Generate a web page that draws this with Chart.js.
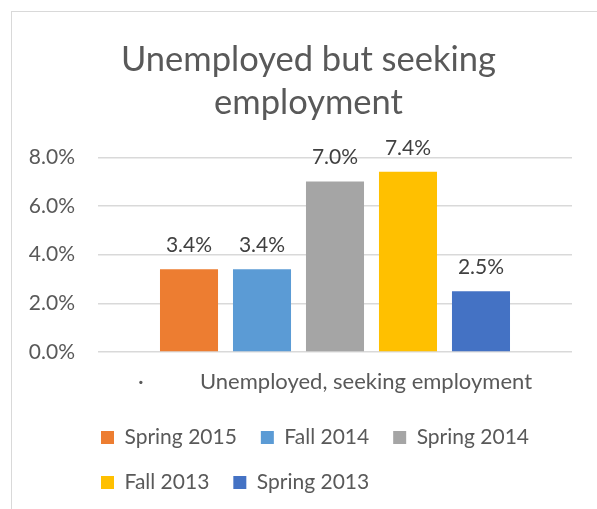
<!DOCTYPE html>
<html>
<head>
<meta charset="utf-8">
<script src="https://cdn.jsdelivr.net/npm/chart.js@4/dist/chart.umd.min.js"></script>
<style>
  html, body { margin: 0; padding: 0; background: #fff; }
  #wrap { position: relative; width: 597px; height: 509px; overflow: hidden; }
  #frame { position: absolute; left: 11px; top: 11px; width: 700px; height: 600px;
           border-left: 1px solid #d9d9d9; border-top: 1px solid #d9d9d9; }
  #chart { position: absolute; left: 0; top: 0; }
</style>
</head>
<body>
<div id="wrap">
  <div id="frame"></div>
  <canvas id="chart" width="597" height="509"></canvas>
</div>
<script>
// Veriler
const categories = ['·          Unemployed, seeking employment'];
const seriesNames = ['Spring 2015', 'Fall 2014', 'Spring 2014', 'Fall 2013', 'Spring 2013'];
const seriesValues = [[3.4], [3.4], [7.0], [7.4], [2.5]];
const seriesColors = ['#ed7d31', '#5b9bd5', '#a5a5a5', '#ffc000', '#4472c4'];
const yTicks = [0, 2, 4, 6, 8];

const FONT = 'Lato, "Open Sans", sans-serif';
const TEXT = '#595959';
const LEGEND_SHIFT = 48;
const TITLE_SHIFT = 16;

// Bar üstü değer etiketleri
const valueLabels = {
    id: 'valueLabels',
    afterDatasetsDraw(chart) {
        const ctx = chart.ctx;
        ctx.save();
        ctx.font = '21px ' + FONT;
        ctx.fillStyle = '#404040';
        ctx.textAlign = 'center';
        ctx.textBaseline = 'middle';
        chart.data.datasets.forEach((ds, i) => {
            chart.getDatasetMeta(i).data.forEach((bar, j) => {
                ctx.fillText(ds.data[j].toFixed(1) + '%', bar.x, bar.y - 24);
            });
        });
        ctx.restore();
    }
};

// Başlık ve lejantı Excel'deki gibi biraz sağa kaydır
const boxShift = {
    id: 'boxShift',
    afterLayout(chart) {
        if (chart.legend) chart.legend.left += LEGEND_SHIFT;
        if (chart.titleBlock) chart.titleBlock.left += TITLE_SHIFT;
    }
};

new Chart(document.getElementById('chart'), {
    type: 'bar',
    data: {
        labels: categories,
        datasets: seriesNames.map((name, i) => ({
            label: name,
            data: seriesValues[i],
            backgroundColor: seriesColors[i],
            categoryPercentage: 0.77,
            barPercentage: 0.795
        }))
    },
    options: {
        responsive: false,
        animation: false,
        layout: { padding: { left: 29, right: 25, top: 0, bottom: 6 } },
        plugins: {
            title: {
                display: true,
                text: ['Unemployed but seeking', 'employment'],
                color: TEXT,
                font: { family: FONT, size: 34.5, weight: 'normal', lineHeight: 1.25 },
                padding: { top: 38, bottom: 33 }
            },
            legend: {
                position: 'bottom',
                align: 'start',
                labels: {
                    color: TEXT,
                    font: { family: FONT, size: 21 },
                    boxWidth: 13,
                    boxHeight: 13,
                    padding: 24
                }
            },
            tooltip: { enabled: false }
        },
        scales: {
            x: {
                grid: { display: false, drawTicks: false },
                border: { display: false },
                afterFit(scale) { scale.height = 51; },
                ticks: { color: TEXT, font: { family: FONT, size: 22 }, padding: 17, maxRotation: 0 }
            },
            y: {
                min: 0,
                max: 8,
                afterBuildTicks(scale) { scale.ticks = yTicks.map(v => ({ value: v })); },
                afterFit(scale) { scale.width = 69; },
                grid: { color: '#d9d9d9', lineWidth: 1.5, drawTicks: false },
                border: { display: false },
                ticks: {
                    color: TEXT,
                    font: { family: FONT, size: 21 },
                    padding: 23,
                    callback: v => v.toFixed(1) + '%'
                }
            }
        }
    },
    plugins: [valueLabels, boxShift]
});
</script>
</body>
</html>
